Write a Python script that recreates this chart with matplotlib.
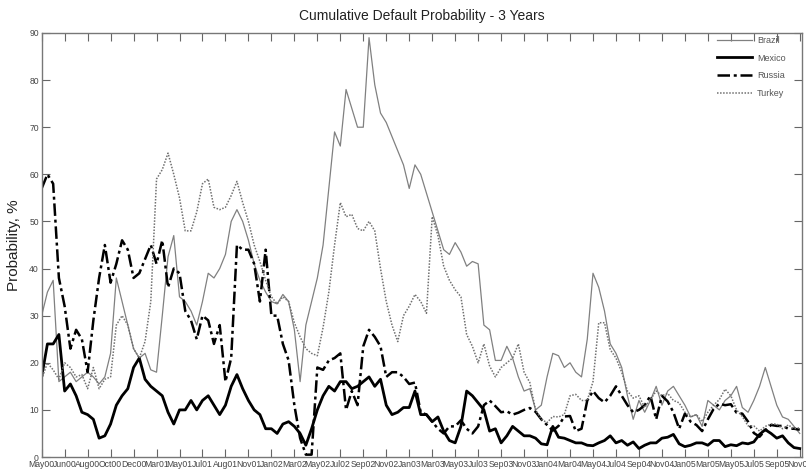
import numpy as np
import matplotlib
matplotlib.use("Agg")
import matplotlib.pyplot as plt

plt.rcParams['font.family'] = ['Liberation Sans', 'DejaVu Sans']

# one observation every quarter of a tick interval
tick_labels = ['May00', 'Jun00', 'Aug00', 'Oct00', 'Dec00', 'Mar01', 'May01', 'Jul01',
               'Aug01', 'Nov01', 'Jan02', 'Mar02', 'May02', 'Jul02', 'Sep02', 'Nov02',
               'Jan03', 'Mar03', 'May03', 'Jul03', 'Sep03', 'Nov03', 'Jan04', 'Mar04',
               'May04', 'Jul04', 'Sep04', 'Nov04', 'Jan05', 'Mar05', 'May05', 'Jul05',
               'Sep05', 'Nov05']
obs_per_tick = 4

brazil = [30, 35, 37.5, 16, 17, 18, 16, 17, 18, 17, 15.5, 17,
          22, 38, 33, 28, 23, 21, 22, 18.5, 18, 30, 42.5, 47,
          34, 33, 31, 28, 33, 39, 38, 40, 43, 50, 52.5, 50,
          46, 41, 37.5, 35, 33, 32.5, 34.5, 33, 27, 16, 28, 33,
          38, 45, 57, 69, 66, 78, 74, 70, 70, 89, 79, 73,
          71, 68, 65, 62, 57, 62, 60, 56, 52, 48, 44, 43,
          45.5, 43.5, 40.5, 41.5, 41, 28, 27, 20.5, 20.5, 23.5, 21, 17,
          14, 14.5, 10, 11, 17, 22, 21.5, 19, 20, 18, 17, 25,
          39, 36, 31, 24, 22, 19, 13, 8, 12, 9.5, 12, 15,
          11, 14, 15, 13, 11, 8.5, 9, 6.5, 12, 11, 10, 12,
          13, 15, 10.5, 9.5, 12, 15, 19, 15, 11, 8.5, 8, 6.5,
          5]

mexico = [17, 24, 24, 26, 14, 15.5, 13, 9.5, 9, 8, 4, 4.5,
          7, 11, 13, 14.5, 19, 21, 16.5, 15, 14, 13, 9.5, 7,
          10, 10, 12, 10, 12, 13, 11, 9, 11, 15, 17.5, 14.5,
          12, 10, 9, 6, 6, 5, 7, 7.5, 6.5, 5, 2.5, 6,
          10, 13, 15, 14, 16, 16, 14.5, 15, 16, 17, 15, 16.5,
          11, 9, 9.5, 10.5, 10.5, 14, 9, 9, 7.5, 8.5, 5.5, 3.5,
          3, 6.5, 14, 13, 11.5, 10, 5.5, 6, 3, 4.5, 6.5, 5.5,
          4.5, 4.5, 4, 2.8, 2.6, 6.5, 4.2, 4, 3.5, 3, 3, 2.5,
          2.4, 3, 3.5, 4.5, 3, 3.5, 2.5, 3.2, 1.8, 2.5, 3, 3,
          4, 4.2, 4.8, 2.8, 2.2, 2.5, 3, 3, 2.5, 3.5, 3.5, 2.2,
          2.6, 2.4, 3, 2.8, 3.2, 4.8, 5.8, 5, 4, 4.5, 3, 2,
          1.8]

russia = [57, 60, 58, 38, 32, 23, 27, 25, 18, 29, 38, 45,
          37, 41, 46, 44, 38, 39, 42, 45, 41, 46, 36, 40,
          39, 31, 29, 25, 30, 29, 24, 28, 16, 21, 45, 44,
          44, 41, 33, 44, 30, 30, 24, 20.5, 11, 4, 0.5, 0.5,
          19, 18.5, 20.5, 21, 22, 10, 14, 11, 23.5, 27, 25.5, 23.5,
          17, 18, 18, 17, 15.5, 15.8, 9.5, 9, 7.5, 6, 5, 6.5,
          6.5, 7.8, 6, 5, 6.5, 11, 12, 10.8, 9.5, 9.7, 9, 9.4,
          10, 10.4, 9.6, 8, 6.8, 5.6, 6.6, 8.6, 8.7, 5.5, 6, 12,
          14, 12.5, 11.6, 13, 15, 13, 11, 9.5, 10, 11, 13, 8,
          13, 11.8, 9.5, 6, 9.2, 7.5, 6.8, 5.5, 8, 10.2, 11.3, 11,
          11.2, 9.4, 9.2, 7.5, 5.1, 4.3, 5.7, 6.8, 6.6, 6.6, 6, 6,
          5.8]

turkey = [16.5, 20, 18.5, 16.5, 20, 19, 17, 17.5, 14.5, 19, 14.5, 16.5,
          17, 28, 30, 28, 23, 21, 24.5, 33, 59, 61, 64.5, 60,
          55, 48, 48, 52, 58, 59, 53, 52.5, 53, 55.5, 58.5, 54,
          50, 45, 41.5, 37.5, 34, 32.5, 34, 33, 28.5, 25.5, 23, 22,
          21.5, 27.5, 35, 45, 54, 51, 51.5, 48.5, 48, 50, 48, 40,
          33, 28, 24.5, 30, 32, 34.5, 33, 30.5, 51, 47, 40.5, 37.5,
          35.5, 34, 26, 23.5, 20, 24, 19.3, 17, 19, 20, 21, 24,
          18, 15.8, 10, 8, 7.3, 8.6, 8.5, 9, 13, 13.3, 12, 12,
          16, 28.5, 28.5, 22.8, 21, 18, 14, 12.5, 13, 10.5, 12.2, 14,
          13, 13.5, 12, 11.5, 9.5, 8.5, 9, 7.5, 9.5, 11, 12.2, 14.4,
          13, 10, 8.6, 6.6, 6.6, 5.5, 6.5, 7, 7, 6, 6.8, 6,
          6.2]

obs = np.arange(len(brazil))
tick_pos = np.arange(len(tick_labels)) * obs_per_tick

fig = plt.figure(figsize=(8.06, 4.71), dpi=100)
ax = fig.add_axes([0.0517, 0.0297, 0.9434, 0.9003])

ax.plot(obs, brazil, color='#808080', lw=0.9, label='Brazil')
ax.plot(obs, mexico, color='black', lw=2.0, label='Mexico')
ax.plot(obs, russia, color='black', lw=1.8, linestyle=(0, (5, 1.5, 1.2, 1.5)), label='Russia')
ax.plot(obs, turkey, color='#707070', lw=1.1, linestyle=(0, (1, 1)), label='Turkey')

ax.set_xlim(0, 132.4)
ax.set_ylim(0, 90)
ax.set_xticks(tick_pos)
ax.set_xticklabels(tick_labels)
ax.set_yticks(np.arange(0, 91, 10))

ax.tick_params(direction='in', top=True, right=True, length=6, width=0.8,
               color='#666666', labelsize=6.2, labelcolor='#444444', pad=2)
for s in ax.spines.values():
    s.set_color('#777777')
    s.set_linewidth(1.0)

ax.set_ylabel('Probability, %', fontsize=11, color='#222222', labelpad=6)
ax.set_title('Cumulative Default Probability - 3 Years', fontsize=10, color='#222222', pad=9)

leg = ax.legend(loc='upper left', bbox_to_anchor=(0.878, 1.012), frameon=False,
                fontsize=6.5, handlelength=3.8, labelspacing=0.95, handletextpad=0.6)
for t in leg.get_texts():
    t.set_color('#555555')

fig.savefig('out.png', dpi=100)
